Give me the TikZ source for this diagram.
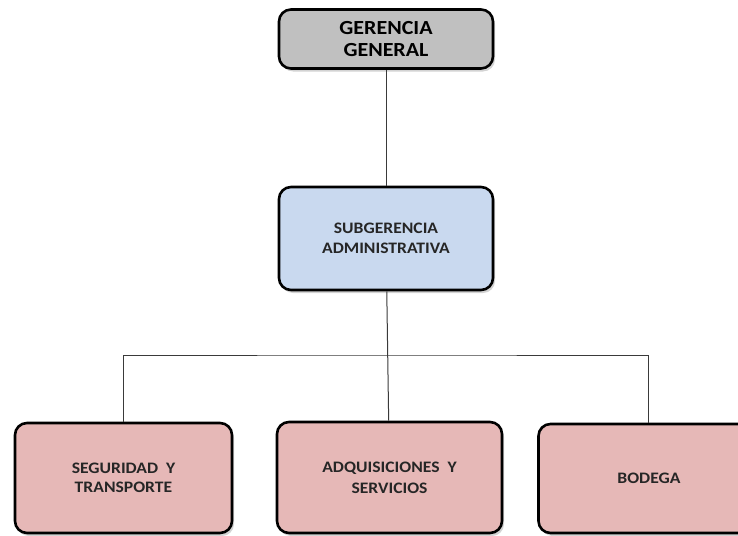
\documentclass[tikz,border=0pt]{standalone}
\usepackage{fontspec}
\setmainfont{Carlito}
\newfontfamily\boxfont[FakeStretch=1.1]{Carlito}
\usetikzlibrary{shadows}
\definecolor{grayfill}{HTML}{C0C0C0}
\definecolor{bluefill}{HTML}{C9D9EF}
\definecolor{pinkfill}{HTML}{E6B8B7}
\definecolor{txt}{HTML}{262626}
\definecolor{conn}{HTML}{3A3A3A}
\tikzset{
  box/.style={draw=black, line width=2.6pt, rounded corners=12pt, align=center,
    text=txt, inner sep=0pt,
    drop shadow={shadow xshift=2pt, shadow yshift=-3pt, opacity=0.35, fill=gray}},
  conn/.style={draw=conn, line width=1pt}
}
\begin{document}
\begin{tikzpicture}[x=1pt, y=-1pt]
\useasboundingbox (0,0) rectangle (738,535);
\node[box, fill=grayfill, minimum width=214pt, minimum height=59pt,
  font=\boxfont\fontsize{20}{22}\selectfont\bfseries, text=black] (top) at (386,39) {GERENCIA\\GENERAL};
\node[box, fill=bluefill, minimum width=214pt, minimum height=103pt,
  font=\boxfont\fontsize{16}{20}\selectfont\bfseries] (mid) at (386,238.5) {SUBGERENCIA\\ADMINISTRATIVA};
\node[box, fill=pinkfill, minimum width=217pt, minimum height=110pt,
  font=\boxfont\fontsize{16}{19}\selectfont\bfseries] (left) at (123.5,478) {SEGURIDAD\ \ Y\\TRANSPORTE};
\node[box, fill=pinkfill, minimum width=225pt, minimum height=111pt,
  font=\boxfont\fontsize{16}{21}\selectfont\bfseries] (center) at (389.5,477.5) {ADQUISICIONES\ \ Y\\SERVICIOS};
\node[box, fill=pinkfill, minimum width=219pt, minimum height=109pt,
  font=\boxfont\fontsize{16}{19}\selectfont\bfseries] (right) at (648,478.5) {\hspace*{2pt}BODEGA};
\coordinate (bar) at (388,355);
\draw[conn] (top) -- (mid);
\draw[conn] (mid) -- (center);
\draw[conn] (left.north) |- (bar) -| (right.north);
\end{tikzpicture}
\end{document}
